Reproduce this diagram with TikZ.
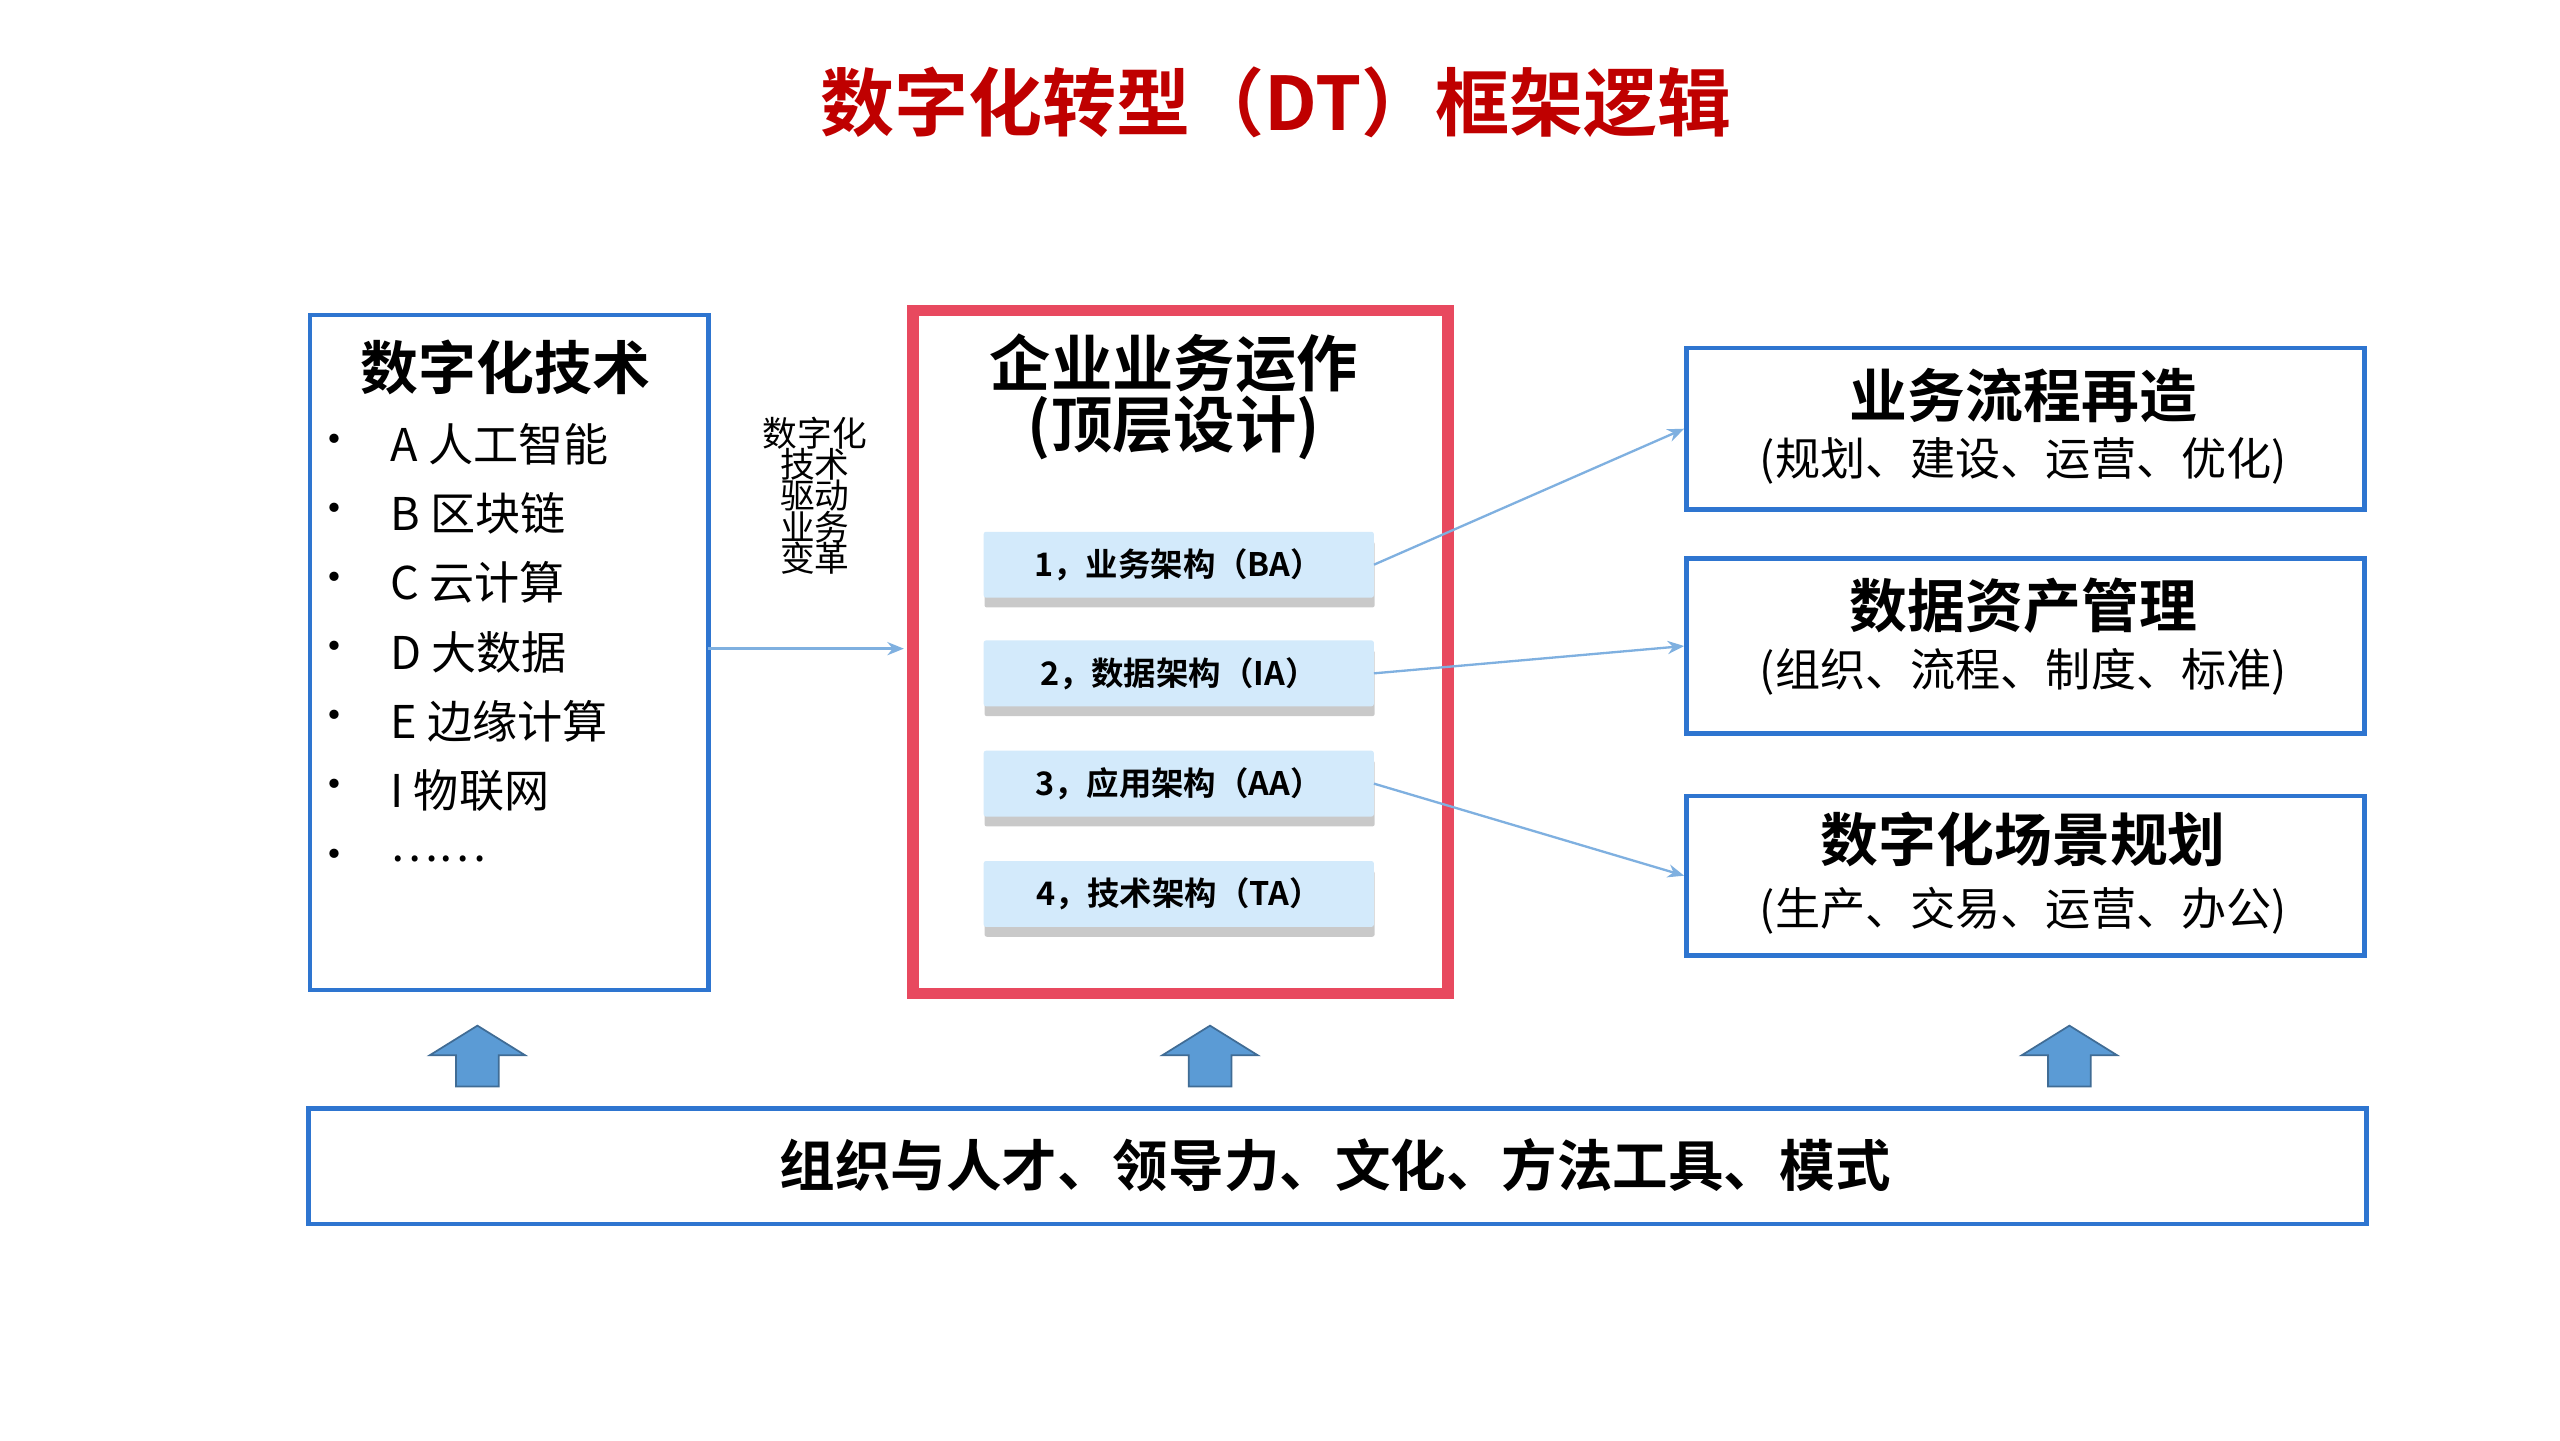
\documentclass[tikz,border=0pt]{standalone}
\usepackage{fontspec}
\setmainfont{Noto Sans CJK SC}[BoldFont={Noto Sans CJK SC Bold}]
\usetikzlibrary{shadows,arrows.meta}
\definecolor{tblue}{HTML}{2E75D0}
\definecolor{tred}{HTML}{E8495F}
\definecolor{lblue}{HTML}{D3EAFB}
\definecolor{ablue}{HTML}{5B9BD5}
\definecolor{lnblue}{HTML}{7FB0E0}
\newcommand{\fs}[1]{\fontsize{#1pt}{#1pt}\selectfont}
\begin{document}
\begin{tikzpicture}[x=0.1cm,y=-0.1cm,
  bbox/.style={draw=tblue,line width=3*0.1cm/1cm*28.45pt},
  sub/.style={rounded corners=4pt,fill=lblue,draw=none,minimum width=237*0.1cm,minimum height=40*0.1cm,drop shadow={shadow xshift=0.5mm,shadow yshift=-0.6cm,fill=gray!70,opacity=0.6},font=\fs{56}\bfseries},
  conn/.style={draw=lnblue,line width=4pt,-{Stealth[length=1cm,width=0.8cm]}},
  uparr/.style={fill=ablue,draw=ablue!70!black,line width=3pt}]
\useasboundingbox (0,0) rectangle (1555,875);
\fill[white] (0,0) rectangle (1555,875);
\node[text=red!75!black,font=\fs{128}\bfseries] (title) at (775,62) {数字化转型（DT）框架逻辑};
% left box
\node[bbox,line width=8pt,minimum width=242*0.1cm,minimum height=410*0.1cm,anchor=north west] (left) at (187,190) {};
\node[font=\fs{100}\bfseries] (lt) at (307,223) {数字化技术};
\foreach \t [count=\i] in {A 人工智能,B 区块链,C 云计算,D 大数据,E 边缘计算,I 物联网,……}{
  \node[font=\fs{76}] (b\i) at (203,{228+42*\i}) {•};
  \node[font=\fs{78},anchor=west] (it\i) at (236,{228+42*\i}) {\t};
}
\node[font=\fs{60},align=center,inner sep=0pt] (mid) at (495,301) {数字化\\[-6pt]技术\\[-6pt]驱动\\[-6pt]业务\\[-6pt]变革};
% red box
\node[draw=tred,line width=20pt,minimum width=325*0.1cm,minimum height=415*0.1cm,anchor=north west] (red) at (551,185) {};
\node[font=\fs{106}\bfseries,align=center] (rt) at (713,241) {企业业务运作\\(顶层设计)};
\node[sub] (ba) at (716,343) {1，业务架构（BA）};
\node[sub] (ia) at (716,409) {2，数据架构（IA）};
\node[sub] (aa) at (716,476) {3，应用架构（AA）};
\node[sub] (ta) at (716,543) {4，技术架构（TA）};
% right boxes
\node[bbox,line width=8pt,minimum width=412*0.1cm,minimum height=98*0.1cm,anchor=north west] (r1) at (1023,210) {};
\node[bbox,line width=8pt,minimum width=412*0.1cm,minimum height=106*0.1cm,anchor=north west] (r2) at (1023,338) {};
\node[bbox,line width=8pt,minimum width=412*0.1cm,minimum height=97*0.1cm,anchor=north west] (r3) at (1023,482) {};
\node[font=\fs{100}\bfseries] (r1t) at (1229,240) {业务流程再造};
\node[font=\fs{78}] (r1s) at (1229,280) {(规划、建设、运营、优化)};
\node[font=\fs{100}\bfseries] (r2t) at (1229,368) {数据资产管理};
\node[font=\fs{78}] (r2s) at (1229,408) {(组织、流程、制度、标准)};
\node[font=\fs{100}\bfseries] (r3t) at (1229,510) {数字化场景规划};
\node[font=\fs{78}] (r3s) at (1229,553) {(生产、交易、运营、办公)};
% connectors
\coordinate (lo) at (430,394);
\coordinate (ri) at (549,394);
\draw[conn] (lo) -- (ri);
\draw[conn] (ba.east) -- (r1.west);
\draw[conn] (ia.east) -- (r2.west);
\draw[conn] (aa.east) -- (r3.west);
% bottom
\node[bbox,line width=8pt,minimum width=1250*0.1cm,minimum height=70*0.1cm,anchor=north west] (bot) at (186,672) {};
\node[font=\fs{96}\bfseries] (bt) at (811,708) {组织与人才、领导力、文化、方法工具、模式};
\foreach \x in {290,735,1257}{
  \draw[uparr] (\x,623) -- (\x+29,641) -- (\x+13,641) -- (\x+13,660) -- (\x-13,660) -- (\x-13,641) -- (\x-29,641) -- cycle;
}
\end{tikzpicture}
\end{document}
